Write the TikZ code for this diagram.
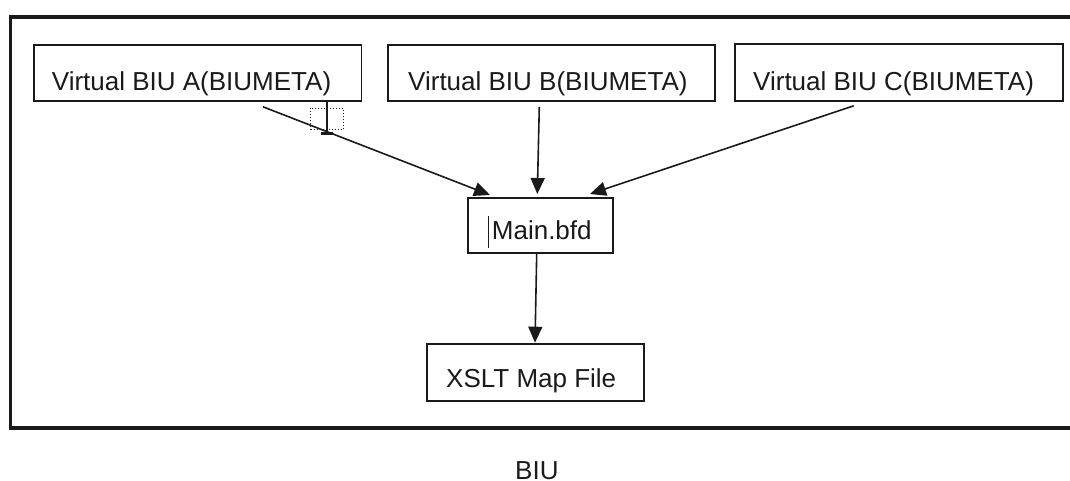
\documentclass[tikz,border=0pt]{standalone}
\usepackage{fontspec}
\setmainfont{Liberation Sans}
\usetikzlibrary{arrows.meta}
\definecolor{ink}{HTML}{1A1A1A}
\begin{document}
\begin{tikzpicture}[x=1pt,y=-1pt,
  box/.style={draw=ink,line width=1.8pt,inner sep=0pt,anchor=north west,minimum width=#1},
  lbl/.style={inner sep=0pt,anchor=base west,text=ink,font=\fontsize{26}{30}\selectfont},
  arr/.style={draw=ink,line width=1.6pt,-{Triangle[length=16pt,width=14pt]}},
  frame/.style={draw=ink,line width=3.8pt,line join=miter}]
\useasboundingbox (0,0) rectangle (1070,480);
% outer frame (right side outside the picture)
\draw[frame] (1070,17.3) -- (10.5,17.3) -- (10.5,428) -- (1070,428);
% boxes
\node[box=327.8pt,minimum height=56pt] (A) at (32.7,44) {};
\node[box=327.3pt,minimum height=56pt] (B) at (387,44) {};
\node[box=328pt,minimum height=57.3pt] (C) at (734,42.7) {};
\node[box=145pt,minimum height=55pt] (M) at (467,196.7) {};
\node[box=216.7pt,minimum height=56.7pt] (X) at (426,343.3) {};
% labels
\node[lbl] (At) at (51.7,90) {Virtual BIU A(BIUMETA)};
\node[lbl] (Bt) at (408,90) {Virtual BIU B(BIUMETA)};
\node[lbl] (Ct) at (753,90) {Virtual BIU C(BIUMETA)};
\node[lbl] (Mt) at (491.7,239.3) {Main.bfd};
\node[lbl] (Xt) at (446,387.3) {XSLT Map File};
\node[lbl] (T) at (515,479.5) {BIU};
% connectors
\draw[arr] ([shift={(230.3,5)}]A.south west) -- ([shift={(23,-1.7)}]M.north west);
\draw[arr] ([shift={(152.3,5)}]B.south west) -- ([shift={(70.3,-2.7)}]M.north west);
\draw[arr] ([shift={(119.7,4)}]C.south west) -- ([shift={(123,-2.7)}]M.north west);
\draw[arr] ([shift={(69.7,0.5)}]M.south west) -- ([shift={(109,-0.6)}]X.north west);
% cursor artefacts
\draw[ink,line width=1.3pt] (327,101) -- (327,134);
\draw[ink,line width=2.2pt] (321,101) -- (333,101);
\draw[ink,line width=2.2pt] (321,133.5) -- (333,133.5);
\draw[ink,dotted,line width=1pt] (310.7,108.3) rectangle (343.3,129.3);
\draw[ink,line width=1.4pt] (488.3,216) -- (488.3,248.3);
\end{tikzpicture}
\end{document}
